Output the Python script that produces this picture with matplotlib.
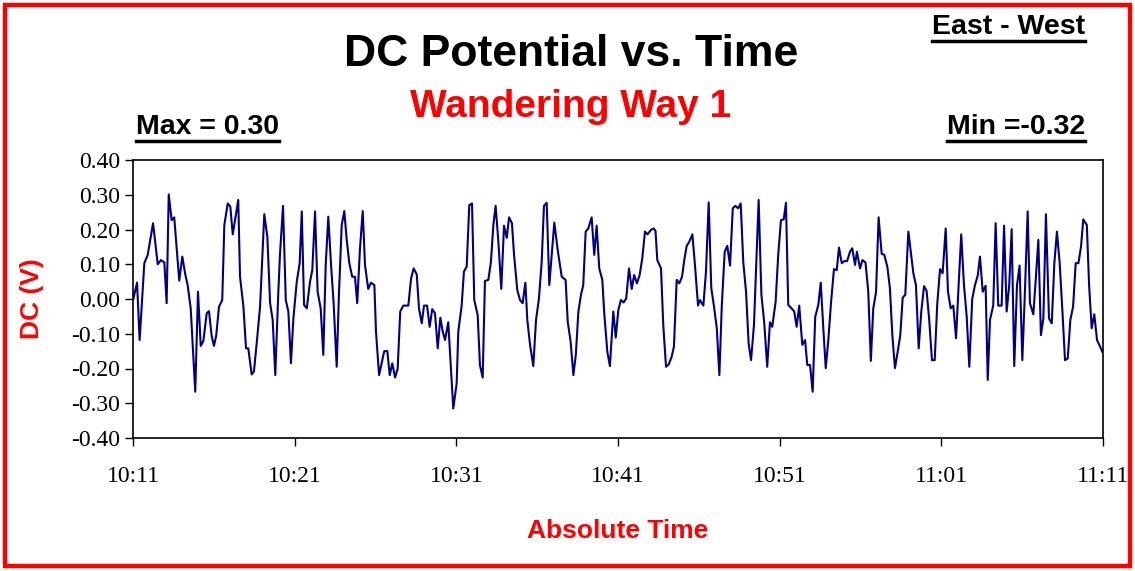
import matplotlib
matplotlib.use('Agg')
import matplotlib.pyplot as plt
from matplotlib.ticker import FuncFormatter, FixedLocator
from matplotlib.patches import Rectangle
from matplotlib.lines import Line2D
import numpy as np

# minutes after 10:11
t = np.array([0.02, 0.25, 0.41, 0.70, 0.91, 1.24, 1.53, 1.73, 1.94, 2.08, 2.21, 2.39, 2.55, 2.86, 3.05, 3.22, 3.38, 3.57, 3.85, 4.02,
              4.19, 4.35, 4.56, 4.70, 4.87, 5.01, 5.15, 5.32, 5.52, 5.65, 5.86, 6.02, 6.17, 6.51, 6.62, 6.83, 6.99, 7.13, 7.34, 7.48,
              7.65, 7.86, 8.12, 8.31, 8.48, 8.64, 8.80, 8.99, 9.09, 9.28, 9.45, 9.61, 9.77, 9.92, 10.13, 10.31, 10.44, 10.58, 10.75, 10.95,
              11.09, 11.26, 11.42, 11.61, 11.77, 11.92, 12.08, 12.25, 12.41, 12.60, 12.74, 12.91, 13.07, 13.22, 13.38, 13.56, 13.73, 13.87, 14.04, 14.21,
              14.35, 14.55, 14.72, 14.93, 15.03, 15.22, 15.38, 15.54, 15.73, 15.88, 16.04, 16.21, 16.37, 16.53, 16.72, 17.03, 17.20, 17.36, 17.55, 17.69,
              17.86, 18.00, 18.19, 18.35, 18.51, 18.68, 18.85, 19.01, 19.16, 19.30, 19.50, 19.81, 20.02, 20.12, 20.33, 20.47, 20.64, 20.80, 20.97, 21.11,
              21.32, 21.46, 21.63, 21.77, 21.98, 22.14, 22.29, 22.43, 22.60, 22.78, 22.95, 23.12, 23.26, 23.44, 23.57, 23.77, 23.94, 24.10, 24.27, 24.39,
              24.56, 24.76, 24.93, 25.11, 25.28, 25.42, 25.59, 25.75, 26.06, 26.27, 26.52, 26.76, 26.89, 27.07, 27.24, 27.39, 27.55, 27.71, 27.85, 28.00,
              28.16, 28.37, 28.53, 28.68, 28.84, 29.03, 29.15, 29.34, 29.50, 29.71, 29.86, 30.02, 30.18, 30.35, 30.51, 30.68, 30.85, 31.00, 31.17, 31.34,
              31.50, 31.67, 31.83, 32.04, 32.21, 32.32, 32.43, 32.66, 32.80, 32.97, 33.14, 33.32, 33.46, 33.63, 33.79, 33.96, 34.10, 34.25, 34.41, 34.60,
              34.76, 34.95, 35.07, 35.28, 35.44, 35.61, 35.77, 35.94, 36.11, 36.27, 36.42, 36.60, 36.76, 36.93, 37.10, 37.26, 37.43, 37.59, 37.75, 37.92,
              38.08, 38.23, 38.41, 38.70, 38.87, 39.04, 39.23, 39.40, 39.54, 39.75, 39.91, 40.08, 40.25, 40.39, 40.53, 40.70, 40.90, 41.05, 41.21, 41.40,
              41.57, 41.71, 41.88, 42.04, 42.20, 42.39, 42.54, 42.70, 42.85, 43.01, 43.18, 43.36, 43.53, 43.67, 43.84, 44.00, 44.17, 44.35, 44.49, 44.66,
              44.78, 44.97, 45.12, 45.31, 45.48, 45.64, 45.79, 45.96, 46.12, 46.31, 46.47, 46.66, 46.82, 46.97, 47.13, 47.30, 47.46, 47.61, 47.77, 47.96,
              48.12, 48.27, 48.43, 48.60, 48.76, 48.93, 49.09, 49.25, 49.42, 49.59, 49.75, 49.92, 50.08, 50.27, 50.41, 50.58, 50.74, 50.91, 51.07, 51.23,
              51.40, 51.57, 51.73, 51.91, 52.08, 52.25, 52.39, 52.56, 52.74, 52.87, 53.01, 53.21, 53.36, 53.52, 53.73, 53.88, 54.04, 54.20, 54.35, 54.51,
              54.68, 54.84, 55.01, 55.17, 55.34, 55.48, 55.69, 55.83, 56.00, 56.16, 56.31, 56.47, 56.66, 56.83, 56.99, 57.15, 57.32, 57.48, 57.65, 57.82,
              57.98, 58.15, 58.31, 58.48, 58.64, 58.78, 59.00, 59.14, 59.30, 59.46, 59.63, 59.79, 59.96])
dc = np.array([0.000, 0.047, -0.118, 0.103, 0.127, 0.218, 0.100, 0.112, 0.105, -0.012, 0.301, 0.227, 0.235, 0.053, 0.122, 0.074, 0.040, -0.027, -0.267, 0.021,
               -0.135, -0.121, -0.041, -0.035, -0.108, -0.135, -0.104, -0.022, -0.003, 0.213, 0.275, 0.266, 0.186, 0.285, 0.064, -0.022, -0.142, -0.142, -0.217, -0.209,
               -0.128, -0.022, 0.244, 0.179, -0.012, -0.060, -0.219, 0.021, 0.127, 0.268, -0.003, -0.036, -0.185, -0.056, 0.050, 0.103, 0.252, -0.017, -0.027, 0.050,
               0.083, 0.252, 0.021, -0.027, -0.161, 0.098, 0.237, 0.098, -0.012, -0.195, 0.016, 0.213, 0.253, 0.170, 0.103, 0.064, 0.064, -0.012, 0.146, 0.253,
               0.098, 0.029, 0.047, 0.040, -0.094, -0.219, -0.185, -0.150, -0.150, -0.219, -0.185, -0.226, -0.201, -0.036, -0.019, -0.019, 0.059, 0.088, 0.071, -0.027,
               -0.070, -0.019, -0.019, -0.080, -0.029, -0.041, -0.142, -0.054, -0.094, -0.118, -0.067, -0.315, -0.243, -0.094, -0.019, 0.079, 0.093, 0.270, 0.275, -0.003,
               -0.046, -0.190, -0.226, 0.052, 0.055, 0.107, 0.213, 0.268, 0.165, 0.029, 0.211, 0.176, 0.235, 0.218, 0.127, 0.026, -0.003, -0.012, 0.047, -0.060,
               -0.132, -0.193, -0.060, 0.002, 0.107, 0.268, 0.277, 0.040, 0.220, 0.141, 0.064, 0.055, -0.065, -0.123, -0.219, -0.161, -0.036, 0.012, 0.040, 0.194,
               0.203, 0.235, 0.127, 0.211, 0.088, 0.055, -0.041, -0.152, -0.193, -0.036, -0.111, -0.032, -0.003, -0.010, 0.002, 0.088, 0.029, 0.069, 0.045, 0.069,
               0.117, 0.194, 0.186, 0.199, 0.203, 0.196, 0.112, 0.088, -0.075, -0.195, -0.188, -0.166, -0.137, 0.055, 0.045, 0.064, 0.112, 0.153, 0.165, 0.186,
               0.098, -0.019, -0.003, -0.019, 0.077, 0.278, 0.031, -0.022, -0.084, -0.219, -0.019, 0.136, 0.153, 0.096, 0.261, 0.268, 0.261, 0.275, 0.105, 0.021,
               -0.128, -0.176, -0.075, 0.285, 0.012, -0.065, -0.195, -0.067, -0.080, -0.008, 0.127, 0.227, 0.229, 0.277, -0.017, -0.025, -0.036, -0.080, -0.019, -0.132,
               -0.118, -0.190, -0.190, -0.267, -0.051, -0.017, 0.047, -0.084, -0.199, -0.118, -0.008, 0.086, 0.083, 0.148, 0.103, 0.109, 0.109, 0.136, 0.146, 0.098,
               0.136, 0.088, 0.112, 0.105, 0.021, -0.178, -0.027, 0.019, 0.235, 0.130, 0.127, 0.093, 0.031, -0.104, -0.199, -0.152, -0.104, 0.004, 0.012, 0.194,
               0.131, 0.074, 0.040, -0.142, -0.036, 0.037, 0.023, -0.060, -0.176, -0.176, -0.012, 0.086, 0.074, 0.203, 0.021, -0.027, -0.019, -0.113, 0.040, 0.186,
               0.040, -0.051, -0.195, 0.000, 0.040, 0.067, 0.122, 0.021, 0.038, -0.233, -0.060, -0.019, 0.218, -0.019, -0.019, 0.211, -0.036, 0.040, 0.201, -0.193,
               0.040, 0.096, -0.176, 0.021, 0.252, -0.012, -0.044, 0.050, 0.170, -0.104, -0.056, 0.244, -0.056, -0.070, 0.103, 0.194, 0.103, -0.027, -0.176, -0.171,
               -0.060, -0.022, 0.103, 0.103, 0.151, 0.229, 0.213, 0.040, -0.084, -0.044, -0.118, -0.134, -0.152])

tick_pos = [0, 10, 20, 30, 40, 50, 60]
tick_lbl = ['10:11', '10:21', '10:31', '10:41', '10:51', '11:01', '11:11']
y_ticks = [-0.40, -0.30, -0.20, -0.10, 0.00, 0.10, 0.20, 0.30, 0.40]

# tick labels in Times-like serif, everything else Arial-like
plt.rcParams['font.family'] = 'Liberation Serif'
SANS = 'Liberation Sans'

fig = plt.figure(figsize=(11.35, 5.71), dpi=100)
ax = fig.add_axes([133/1135, 1 - 438/571, 970/1135, 278/571])
ax.plot(t, dc, '-', color='#000080', lw=1.5)
ax.set_xlim(0, 60)
ax.set_ylim(-0.40, 0.40)
ax.xaxis.set_major_locator(FixedLocator(tick_pos))
ax.set_xticklabels(tick_lbl)
ax.set_yticks(y_ticks)
ax.yaxis.set_major_formatter(FuncFormatter(lambda v, p: '%.2f' % (0.0 if abs(v) < 1e-9 else v)))
ax.tick_params(axis='both', direction='out', length=6, width=1, colors='black', labelsize=17)
ax.tick_params(axis='x', pad=14)
ax.tick_params(axis='y', pad=3)
for s in ax.spines.values():
    s.set_linewidth(1.2)

ax.set_ylabel('DC (V)', color='red', fontsize=19, fontweight='bold', family=SANS, labelpad=20)
ax.set_xlabel('Absolute Time', color='red', fontsize=19, fontweight='bold', family=SANS, labelpad=23)

fig.text(571/1135, 1 - 55/571, 'DC Potential vs. Time', ha='center', va='center', fontsize=32, fontweight='bold', family=SANS)
fig.text(571/1135, 1 - 107/571, 'Wandering Way 1', ha='center', va='center', fontsize=28, fontweight='bold', color='red', family=SANS)
under = [
    fig.text(136/1135, 1 - 127/571, 'Max = 0.30', ha='left', va='center', fontsize=20.5, fontweight='bold', family=SANS),
    fig.text(1085/1135, 1 - 127/571, 'Min =-0.32', ha='right', va='center', fontsize=20.5, fontweight='bold', family=SANS),
    fig.text(1085/1135, 1 - 27/571, 'East - West', ha='right', va='center', fontsize=20.5, fontweight='bold', family=SANS),
]

# red frame around the whole chart
fig.patches.append(Rectangle((5/1135, 5/571), 1125/1135, 561/571, transform=fig.transFigure,
                             fill=False, edgecolor='red', lw=3.2))

fig.canvas.draw()
r = fig.canvas.get_renderer()
for tx in under:
    bb = tx.get_window_extent(r).transformed(fig.transFigure.inverted())
    yy = bb.y0 - 0.002
    fig.lines.append(Line2D([bb.x0, bb.x1], [yy, yy], transform=fig.transFigure, color='black', lw=2.5))

fig.savefig('out.png', dpi=100)
